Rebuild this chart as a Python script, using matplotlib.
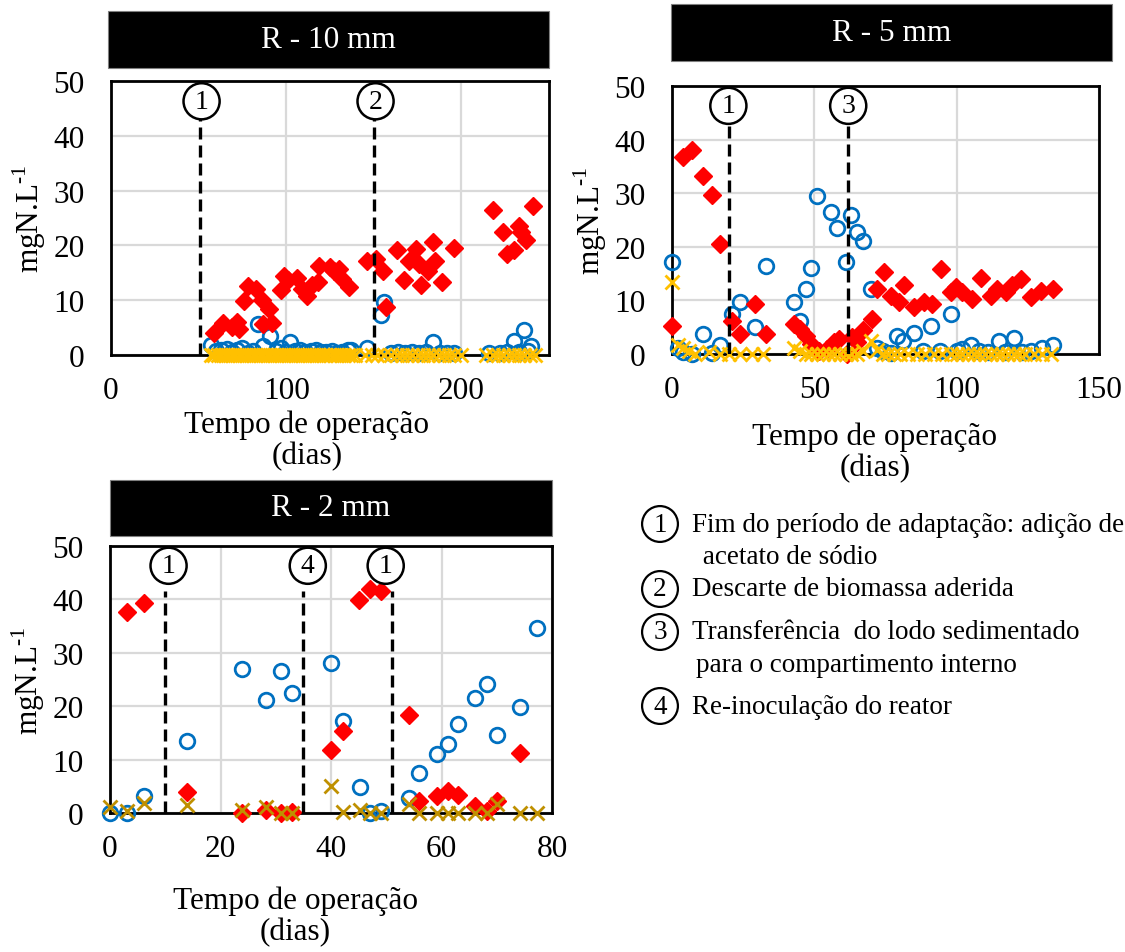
import matplotlib
matplotlib.use('Agg')

import matplotlib.pyplot as plt
from matplotlib.patches import Rectangle

plt.rcParams['font.family'] = 'Liberation Serif'
plt.rcParams['mathtext.fontset'] = 'custom'
plt.rcParams['mathtext.rm'] = 'Liberation Serif'

FIG_W, FIG_H = 1125, 953
BLUE = '#0070C0'
RED = '#FF0000'
GOLD = '#FFC000'
DARK_GOLD = '#BF9000'
FS = 22.5

# ---- R - 10 mm ----
r10_blue_days = [57, 60, 63, 66, 69, 72, 75, 78, 81, 84, 87, 91, 94, 97, 100, 102, 105, 108, 111, 114,
                 117, 120, 123, 126, 129, 132, 135, 137, 146, 154, 156, 160, 164, 168, 172, 176, 180,
                 184, 188, 192, 196, 216, 222, 226, 230, 233, 236, 238, 240]
r10_blue_vals = [1.8, 0.8, 1.0, 1.1, 0.6, 1.0, 1.2, 0.4, 0.8, 5.7, 1.7, 3.5, 0.8, 1.2, 0.6, 2.3, 0.8, 1.0, 0.5, 0.8,
                 0.9, 0.5, 0.6, 0.8, 0.4, 0.6, 0.9, 0.9, 1.3, 7.3, 9.6, 0.3, 0.5, 0.4, 0.6, 0.3, 0.5,
                 2.3, 0.4, 0.3, 0.3, 0.3, 0.4, 0.6, 2.6, 0.5, 4.6, 0.8, 1.7]
r10_red_days = [59, 64, 69, 72, 73, 76, 78, 83, 86, 87, 90, 92, 97, 99, 101, 106, 109, 112, 115, 118, 119,
                125, 127, 130, 132, 136, 146, 151, 155, 157, 163, 167, 170, 174, 176, 177, 181, 184, 185,
                189, 196, 218, 224, 226, 230, 233, 234, 237, 241]
r10_red_vals = [4.0, 5.9, 5.2, 6.0, 4.8, 9.9, 12.6, 12.1, 10.1, 5.7, 8.4, 5.9, 11.8, 14.5, 13.6, 14.0, 12.1,
                10.8, 12.7, 13.3, 16.3, 16.0, 15.4, 15.7, 13.9, 12.4, 17.2, 17.6, 15.4, 8.7, 19.1, 13.6,
                17.2, 19.4, 16.6, 12.7, 15.4, 20.7, 17.2, 13.3, 19.5, 26.4, 22.4, 18.5, 19.1, 23.6, 22.4,
                20.9, 27.2]
r10_x_days = [57, 59, 61, 63, 65, 67, 69, 71, 73, 75, 77, 79, 81, 83, 85, 87, 89, 91, 93, 95, 97, 99, 101,
              103, 105, 107, 109, 111, 113, 115, 117, 119, 121, 123, 125, 127, 129, 131, 133, 135, 137, 139,
              145, 149, 152, 156, 160, 163, 166, 169, 172, 175, 178, 181, 184, 187, 190, 193, 196, 200,
              214, 218, 221, 224, 227, 230, 233, 236, 239, 242]
r10_x_vals = [0, 0, 0, 0, 0, 0, 0, 0, 0, 0, 0, 0, 0, 0, 0, 0, 0, 0, 0, 0, 0, 0, 0,
              0, 0, 0, 0, 0, 0, 0, 0, 0, 0, 0, 0, 0, 0, 0, 0, 0, 0, 0,
              0, 0, 0, 0, 0, 0, 0, 0, 0, 0, 0, 0, 0, 0, 0, 0, 0, 0,
              0, 0, 0, 0, 0, 0, 0, 0, 0, 0]
r10_events = [50.7, 150]
r10_event_labels = ['1', '2']
r10_label_x = [51.7, 151]

# ---- R - 5 mm ----
r5_blue_days = [0, 2, 4, 7, 11, 14, 17, 21, 24, 29, 33, 43, 45, 47, 49, 51, 56, 58, 61, 63, 65, 67, 70,
                72, 74, 77, 79, 81, 85, 88, 91, 94, 98, 100, 102, 105, 108, 111, 115, 117, 120, 123, 126,
                130, 134]
r5_blue_vals = [17.1, 1.2, 0.3, 0.0, 3.7, 0.2, 1.6, 7.5, 9.7, 5.1, 16.5, 9.7, 6.2, 12.1, 16.0, 29.5, 26.5,
                23.5, 17.1, 25.9, 22.7, 21.0, 12.1, 1.2, 0.6, 0.2, 3.4, 2.5, 4.0, 0.5, 5.3, 0.5, 7.5, 0.6,
                1.0, 1.6, 0.5, 0.4, 2.5, 0.4, 2.9, 0.3, 0.5, 1.1, 1.6]
r5_red_days = [0, 4, 7, 11, 14, 17, 21, 24, 29, 33, 43, 45, 47, 49, 51.5, 54.5, 57, 58.6, 61.5, 63.3, 65,
               67, 70.3, 72, 74.6, 76.8, 79.7, 81.5, 85, 88.5, 91.4, 94.4, 98, 99.6, 102, 105.5, 108.5,
               112, 114.3, 117.3, 119.6, 122.5, 126, 129.6, 133.7]
r5_red_vals = [5.3, 36.8, 38.0, 33.3, 29.6, 20.6, 6.1, 3.7, 9.3, 3.7, 5.6, 4.7, 3.4, 1.9, 0.6, 0.9, 2.2,
               2.8, 0.0, 3.1, 2.2, 4.4, 6.5, 12.1, 15.3, 10.9, 9.7, 12.8, 8.7, 9.7, 9.3, 15.9, 11.5, 12.5,
               11.5, 10.3, 14.1, 10.9, 12.1, 11.5, 12.8, 13.9, 10.6, 11.8, 12.1]
r5_x_days = [0, 2, 4, 6, 8, 13, 17, 20, 24, 28, 32, 43, 45, 47, 49, 51, 53, 55, 57, 59, 61, 63, 65, 67,
             70, 72, 74, 76, 78, 80, 83, 86, 89, 92, 95, 98, 100, 102, 104, 106, 108, 110, 112, 114, 116,
             118, 120, 122, 124, 127, 130, 133]
r5_x_vals = [13.4, 1.6, 1.2, 0.5, 0.0, 0.3, 0.0, 0.0, 0.0, 0.0, 0.0, 1.2, 0.5, 0.0, 0.0, 0.0, 0.0, 0.0,
             0.0, 0.0, 0.0, 0.0, 0.0, 0.5, 2.5, 0.8, 0.0, 0.0, 0.0, 0.0, 0.0, 0.0, 0.0, 0.0, 0.0, 0.0,
             0.0, 0.0, 0.0, 0.0, 0.0, 0.0, 0.0, 0.0, 0.0, 0.0, 0.0, 0.0, 0.0, 0.0, 0.0, 0.0]
r5_events = [20, 62]
r5_event_labels = ['1', '3']
r5_label_x = [19.8, 61.9]

# ---- R - 2 mm ----
r2_days = [0, 3, 6.1, 13.9, 23.9, 28.2, 30.9, 33, 40, 42.1, 45.2, 47, 49, 54.2, 56, 59.1, 61.2, 63, 66,
           68.2, 70, 74.2, 77.3]
r2_blue_vals = [0.0, 0.0, 3.2, 13.5, 26.9, 21.1, 26.6, 22.4, 28.0, 17.3, 4.9, 0.0, 0.4, 2.9, 7.5, 11.0,
                13.0, 16.6, 21.6, 24.2, 14.6, 19.9, 34.6]
r2_red_days = [3, 6.1, 13.9, 23.9, 28.2, 30.9, 33, 40, 42.1, 45, 47, 49, 54.2, 56, 59.1, 61.2, 63, 66,
               68.2, 70, 74.2]
r2_red_vals = [37.6, 39.4, 3.9, 0.0, 0.6, 0.0, 0.2, 11.8, 15.4, 39.8, 41.9, 41.6, 18.3, 2.3, 3.2, 4.2,
               3.4, 1.4, 0.4, 2.2, 11.2]
r2_x_vals = [1.1, 0.4, 1.9, 1.5, 0.6, 1.2, 0.0, 0.0, 5.1, 0.2, 0.6, 0.0, 0.0, 1.7, 0.0, 0.0, 0.0, 0.0,
             0.0, 0.0, 1.7, 0.0, 0.0]
r2_events = [10, 35, 51]
r2_event_labels = ['1', '4', '1']
r2_label_x = [10.6, 35.8, 49.9]

notes = [('1', 'Fim do período de adaptação: adição de', ' acetato de sódio'),
         ('2', 'Descarte de biomassa aderida', None),
         ('3', 'Transferência  do lodo sedimentado', 'para o compartimento interno'),
         ('4', 'Re-inoculação do reator', None)]


def px_rect(left, top, right, bottom):
  return [left / FIG_W, 1 - bottom / FIG_H, (right - left) / FIG_W, (bottom - top) / FIG_H]


def circled(ax, x, y, digit, size, **kw):
  ax.text(x, y, digit, fontsize = size, ha = 'center', va = 'center', zorder = 6,
          bbox = dict(boxstyle = 'circle,pad=0.2', fc = 'white', ec = 'black', lw = 1.8), **kw)


def title_bar(text, left, top, right, bottom):
  fig.add_artist(Rectangle((left / FIG_W, 1 - bottom / FIG_H), (right - left) / FIG_W,
                           (bottom - top) / FIG_H, transform = fig.transFigure,
                           fc = 'black', ec = '#7f7f7f', lw = 0.8))
  fig.text((left + right) / 2 / FIG_W, 1 - (top + bottom) / 2 / FIG_H, text, color = 'white',
           fontsize = FS, ha = 'center', va = 'center')


def panel(rect, xmax, xstep, blue, red, cross, cross_color, events, ev_labels, ev_x, ev_top, lab_xy):
  ax = fig.add_axes(rect)
  ax.set_xlim(0, xmax)
  ax.set_ylim(0, 50)
  ax.set_xticks(range(0, xmax + 1, xstep))
  ax.set_yticks(range(0, 51, 10))
  ax.grid(True, color = '#d9d9d9', lw = 1.6)
  ax.set_axisbelow(True)
  for sp in ax.spines.values():
    sp.set_linewidth(2.0)
    sp.set_color('black')
  ax.tick_params(length = 0, labelsize = FS)
  ax.tick_params(axis = 'x', pad = 15)
  ax.tick_params(axis = 'y', pad = 19)

  ax.plot(blue[0], blue[1], ls = 'none', marker = 'o', ms = 10.5, mfc = 'none', mec = BLUE,
          mew = 2.0, clip_on = False, zorder = 3)
  ax.plot(red[0], red[1], ls = 'none', marker = 'D', ms = 9.5, mfc = RED, mec = RED,
          clip_on = False, zorder = 4)
  ax.plot(cross[0], cross[1], ls = 'none', marker = 'x', ms = 10, mec = cross_color, mew = 2.0,
          clip_on = False, zorder = 5)

  for xe, lab, xl in zip(events, ev_labels, ev_x):
    ax.plot([xe, xe], [0, ev_top], color = 'black', lw = 2.4, ls = (0, (3.6, 1.8)), zorder = 5)
    circled(ax, xl, 46.3, lab, 20)

  ax.set_ylabel(r'mgN.L$^{\text{-1}}$', fontsize = FS, labelpad = 4)
  ax.text(lab_xy[0], lab_xy[1], 'Tempo de operação\n(dias)', transform = ax.transAxes,
          fontsize = FS, ha = 'center', va = 'center', linespacing = 1.05)
  return ax


fig = plt.figure(figsize = (FIG_W / 100, FIG_H / 100), dpi = 100)

title_bar('R - 10 mm', 108, 12, 549, 69)
panel(px_rect(111, 82, 549, 356), 250, 100,
      (r10_blue_days, r10_blue_vals), (r10_red_days, r10_red_vals), (r10_x_days, r10_x_vals), GOLD,
      r10_events, r10_event_labels, r10_label_x, 43.5, (0.447, -0.31))

title_bar('R - 5 mm', 671, 5, 1112, 62)
panel(px_rect(672, 87, 1099, 355), 150, 50,
      (r5_blue_days, r5_blue_vals), (r5_red_days, r5_red_vals), (r5_x_days, r5_x_vals), GOLD,
      r5_events, r5_event_labels, r5_label_x, 42.5, (0.475, -0.365))

title_bar('R - 2 mm', 110, 481, 552, 537)
panel(px_rect(110, 547, 552, 814), 80, 20,
      (r2_days, r2_blue_vals), (r2_red_days, r2_red_vals), (r2_days, r2_x_vals), DARK_GOLD,
      r2_events, r2_event_labels, r2_label_x, 41.5, (0.42, -0.385))

# explanatory notes for the circled event markers
note_y = [525, 590, 633, 707]
for (num, line1, line2), y in zip(notes, note_y):
  fig.text(660 / FIG_W, 1 - y / FIG_H, num, fontsize = 19.5, ha = 'center', va = 'center',
           bbox = dict(boxstyle = 'circle,pad=0.2', fc = 'white', ec = 'black', lw = 1.6))
  fig.text(692 / FIG_W, 1 - y / FIG_H, line1, fontsize = 19.5, ha = 'left', va = 'center')
  if line2:
    fig.text(696 / FIG_W, 1 - (y + 33) / FIG_H, line2, fontsize = 19.5, ha = 'left', va = 'center')

fig.savefig('out.png', dpi = 100)
